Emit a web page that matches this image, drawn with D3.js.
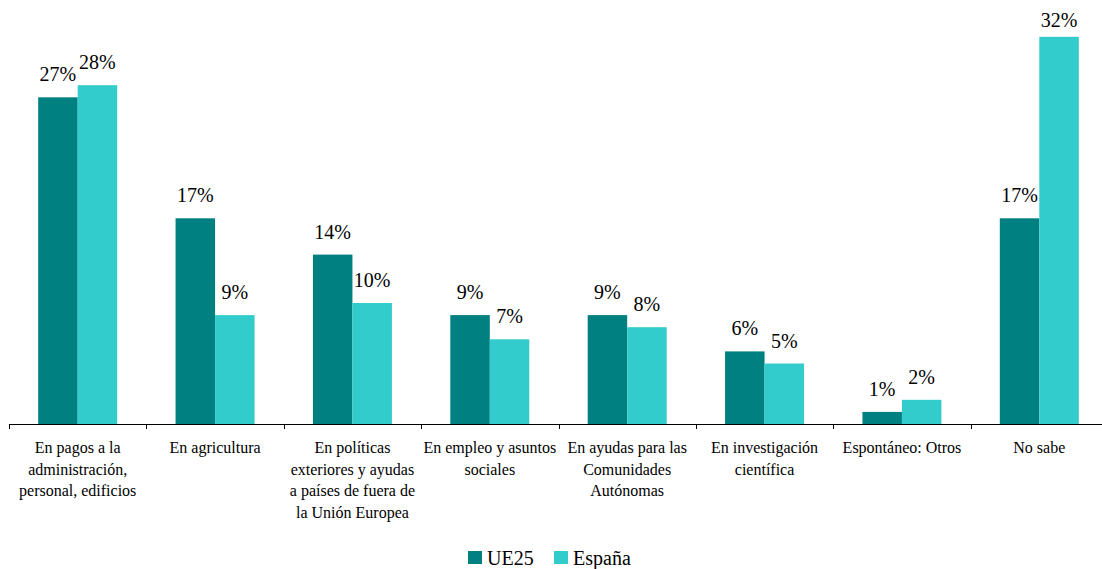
<!DOCTYPE html>
<html>
<head>
  <meta charset="UTF-8">
  <title>UE25 vs España</title>
  <script src="https://cdnjs.cloudflare.com/ajax/libs/d3/7.8.5/d3.min.js"></script>
  <style>
    body { margin: 0; background: #fff; }
  </style>
</head>
<body>
  <div id="chart"></div>
  <script>
    // categories, each already split into its printed lines
    const categories = [
      ["En pagos a la", "administración,", "personal, edificios"],
      ["En agricultura"],
      ["En políticas", "exteriores y ayudas", "a países de fuera de", "la Unión Europea"],
      ["En empleo y asuntos", "sociales"],
      ["En ayudas para las", "Comunidades", "Autónomas"],
      ["En investigación", "científica"],
      ["Espontáneo: Otros"],
      ["No sabe"]
    ];
    const series = ["UE25", "España"];
    const ue25 = [27, 17, 14, 9, 9, 6, 1, 17];
    const espana = [28, 9, 10, 7, 8, 5, 2, 32];
    const colors = ["#008080", "#33CCCC"];

    const width = 1102, height = 569;
    const baseY = 424;
    const serif = "'Liberation Serif', Tinos, FreeSerif";

    const svg = d3.select("#chart").append("svg")
      .attr("width", width)
      .attr("height", height);

    const keys = categories.map((c, i) => i);
    const x = d3.scaleBand().domain(keys).range([9, 1108]).padding(0);
    const y = d3.scaleLinear().domain([0, 35]).range([baseY, baseY - 35 * 12.1]);

    const barW = 39.5;
    const x1 = d3.scaleBand().domain(series)
      .range([x.bandwidth() / 2 - barW, x.bandwidth() / 2 + barW]);

    const rows = keys.map(i => ({ i, vals: [ue25[i], espana[i]] }));

    const groups = svg.selectAll(".grp")
      .data(rows)
      .join("g")
      .attr("class", "grp")
      .attr("transform", d => `translate(${x(d.i)},0)`);

    groups.selectAll("rect")
      .data(d => d.vals.map((v, k) => ({ s: series[k], v, k })))
      .join("rect")
      .attr("x", d => x1(d.s))
      .attr("y", d => y(d.v))
      .attr("width", x1.bandwidth())
      .attr("height", d => baseY - y(d.v))
      .attr("fill", d => colors[d.k]);

    // value labels sit above the bar but never leave the top of the plot
    groups.selectAll(".value")
      .data(d => d.vals.map((v, k) => ({ s: series[k], v, k })))
      .join("text")
      .attr("class", "value")
      .attr("font-family", serif)
      .attr("font-size", 20)
      .attr("text-anchor", "middle")
      .attr("fill", "#000")
      .attr("x", d => x1(d.s) + x1.bandwidth() / 2)
      .attr("y", d => Math.max(y(d.v) - 16, 27))
      .text(d => d.v + "%");

    // axis line with ticks at the category boundaries
    svg.append("line")
      .attr("x1", 9).attr("x2", 1108)
      .attr("y1", baseY + 0.5).attr("y2", baseY + 0.5)
      .attr("stroke", "#000").attr("stroke-width", 1);

    svg.selectAll(".tick")
      .data(keys)
      .join("line")
      .attr("class", "tick")
      .attr("x1", d => Math.round(x(d)) + 0.5)
      .attr("x2", d => Math.round(x(d)) + 0.5)
      .attr("y1", baseY)
      .attr("y2", baseY + 5)
      .attr("stroke", "#000");

    groups.append("text")
      .attr("class", "cat")
      .attr("font-family", serif)
      .attr("font-size", 16)
      .attr("text-anchor", "middle")
      .attr("fill", "#000")
      .attr("x", x.bandwidth() / 2)
      .attr("y", baseY + 29)
      .selectAll("tspan")
      .data(d => categories[d.i])
      .join("tspan")
      .attr("x", x.bandwidth() / 2)
      .attr("dy", (d, j) => j === 0 ? 0 : 21.5)
      .text(d => d);

    // legend
    const legend = svg.append("g").attr("class", "legend");
    const legendX = [468, 554];
    series.forEach((s, k) => {
      legend.append("rect")
        .attr("x", legendX[k]).attr("y", 551)
        .attr("width", 14).attr("height", 13)
        .attr("fill", colors[k]);
      legend.append("text")
        .attr("font-family", serif)
        .attr("font-size", 20)
        .attr("fill", "#000")
        .attr("x", legendX[k] + 19).attr("y", 565)
        .text(s);
    });
  </script>
</body>
</html>
